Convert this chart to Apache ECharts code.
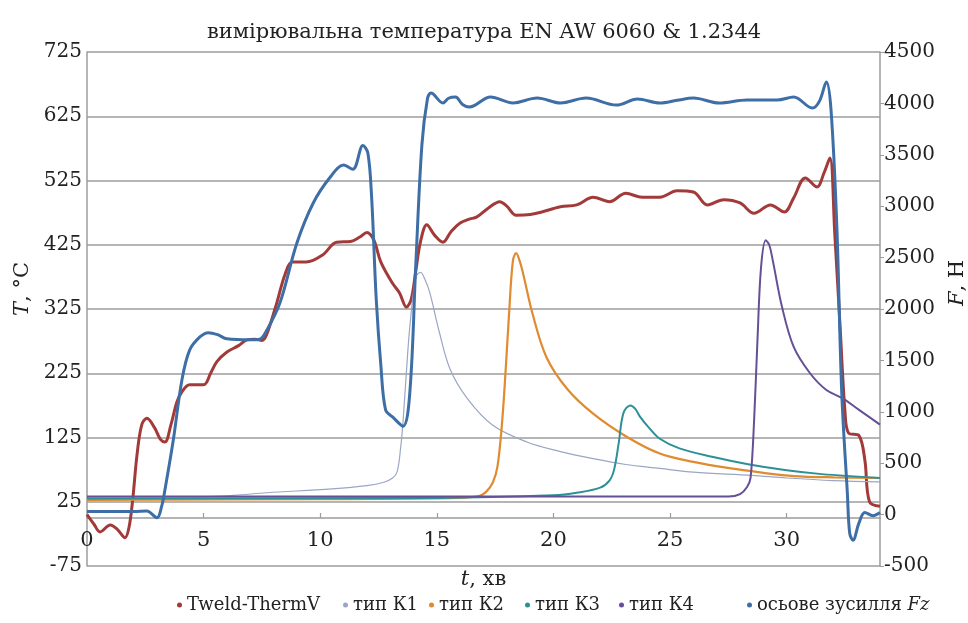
<!DOCTYPE html>
<html>
<head>
<meta charset="utf-8">
<script src="https://cdn.jsdelivr.net/npm/echarts@6/dist/echarts.min.js"></script>
<style>html,body{margin:0;padding:0;background:#fff}#c{width:968px;height:623px}</style>
</head>
<body>
<div id="c"></div>
<script>
// ---- data (t in minutes) ----
const seriesNames = ['Tweld-ThermV', 'тип К1', 'тип К2', 'тип К3', 'тип К4', 'осьове зусилля Fz'];
const xTicks = [0, 5, 10, 15, 20, 25, 30];
const tempTicks = [-75, 25, 125, 225, 325, 425, 525, 625, 725];
const forceTicks = [-500, 0, 500, 1000, 1500, 2000, 2500, 3000, 3500, 4000, 4500];

const tweld = [[0,5],[0.3,-10],[0.56,-22],[1.0,-11],[1.3,-18],[1.63,-31],[1.8,-15],[1.95,25],[2.15,100],[2.35,145],[2.57,155],[2.9,140],[3.15,122],[3.34,118],[3.6,145],[3.85,180],[4.07,196],[4.4,207],[5.0,207],[5.3,225],[5.57,243],[6.0,258],[6.5,268],[6.86,277],[7.2,278],[7.5,276],[7.7,285],[8.14,335],[8.5,380],[8.8,398],[9.4,398],[10.1,409],[10.7,429],[11.3,430],[11.7,437],[12.0,444],[12.3,432],[12.6,398],[13.1,365],[13.4,350],[13.7,328],[13.9,340],[14.1,385],[14.3,430],[14.57,456],[14.9,440],[15.26,429],[15.6,445],[16.0,459],[16.4,465],[16.7,468],[17.2,482],[17.7,492],[18.0,485],[18.4,471],[19.0,472],[19.5,476],[20.3,484],[21.0,487],[21.7,499],[22.4,492],[23.1,505],[23.8,499],[24.56,499],[25.3,509],[26.0,507],[26.6,487],[27.3,495],[28.0,490],[28.6,474],[29.3,487],[29.9,476],[30.3,498],[30.8,529],[31.3,515],[31.6,537],[31.85,560],[32.06,443],[32.3,290],[32.5,165],[32.65,132],[33.1,128],[33.35,90],[33.55,25],[34,18]];

const k1 = [[0,33],[5,33],[6.3,35],[7.7,39],[10.5,45],[12.0,50],[12.7,55],[13.1,62],[13.3,72],[13.45,110],[13.55,150],[13.7,230],[13.84,297],[14.1,375],[14.3,382],[14.5,370],[14.7,350],[15.1,290],[15.56,232],[16.3,186],[17.4,144],[18.86,118],[20.3,103],[21.7,92],[23.1,83],[24.56,77],[26,71],[28.5,66],[30,62],[32,58],[34,56]];

const k2 = [[0,28],[10,29],[16,31],[16.8,34],[17.1,40],[17.4,55],[17.6,80],[17.8,150],[17.95,230],[18.1,320],[18.26,400],[18.4,412],[18.55,400],[18.7,380],[19.1,318],[19.7,250],[20.6,200],[21.7,162],[23.1,127],[24.56,100],[26,87],[27.4,78],[29,70],[30.3,65],[32,63],[34,62]];

const k3 = [[0,30],[15,31],[20,35],[21,39],[22,47],[22.4,58],[22.6,75],[22.8,117],[23.0,163],[23.3,175],[23.5,170],[23.7,158],[24.1,140],[24.56,123],[25.4,108],[26.8,95],[28.4,83],[30,74],[31.5,68],[34,62]];

const k4 = [[0,33],[20,33],[27.5,33],[28.0,37],[28.3,48],[28.45,62],[28.6,150],[28.75,280],[28.9,390],[29.1,432],[29.25,425],[29.4,401],[29.8,328],[30.3,266],[31.0,225],[31.7,199],[32.4,186],[33.1,168],[34,145]];

const fz = [[0,30],[1,30],[2,30],[2.56,35],[3.0,-30],[3.2,80],[3.34,240],[3.7,726],[4.07,1310],[4.4,1600],[4.84,1728],[5.2,1770],[5.6,1750],[6.0,1710],[7.0,1700],[7.4,1705],[7.7,1790],[8.27,2058],[9.0,2642],[9.7,3031],[10.4,3274],[11.0,3400],[11.4,3360],[11.83,3590],[12.04,3520],[12.2,3100],[12.4,2100],[12.6,1450],[12.8,1020],[13.1,950],[13.55,860],[13.84,1183],[14.1,2447],[14.36,3600],[14.6,4050],[14.75,4100],[15.26,4004],[15.5,4050],[15.8,4062],[16.1,3990],[16.4,3965],[17.3,4062],[18.26,4004],[19.3,4052],[20.3,4004],[21.4,4052],[22.7,3984],[23.6,4043],[24.56,4004],[25.3,4030],[26.0,4052],[27.1,4004],[28.3,4033],[29.6,4033],[30.3,4062],[31.1,3955],[31.4,4020],[31.7,4208],[31.9,3936],[32.15,2800],[32.36,1183],[32.6,210],[32.7,-180],[32.84,-250],[33.1,-80],[33.35,20],[33.7,-10],[34,20]];

const colors = ['#a33a3a', '#9aa6c6', '#e08b2f', '#2b9197', '#654f96', '#3d6ea6'];
const widths = [3, 1.2, 2.2, 2, 2, 3];
const seriesData = [tweld, k1, k2, k3, k4, fz];
const yIndex = [0, 0, 0, 0, 0, 1];

const FONT = 'DejaVu Serif';
const legendLeft = [172, 338, 424, 520, 614, 742];

const chart = echarts.init(document.getElementById('c'));
const gray = '#9c9c9c';

const option = {
  animation: false,
  backgroundColor: '#fff',
  title: {
    text: 'вимірювальна температура EN AW 6060 & 1.2344',
    left: 'center', top: 17,
    textStyle: { fontFamily: FONT, fontSize: 21, fontWeight: 'normal', color: '#222' }
  },
  legend: seriesNames.map((n, i) => ({
    data: [n],
    left: legendLeft[i], bottom: 4,
    icon: 'circle', itemWidth: 5, itemHeight: 5, itemGap: 6,
    formatter: (name) => name === 'осьове зусилля Fz' ? '{n|осьове зусилля }{i|Fz}' : name,
    textStyle: {
      fontFamily: FONT, fontSize: 18, color: '#222',
      rich: {
        n: { fontFamily: FONT, fontSize: 18, color: '#222' },
        i: { fontFamily: FONT, fontSize: 18, color: '#222', fontStyle: 'italic' }
      }
    }
  })),
  grid: { left: 87, right: 88, top: 52, bottom: 57, outerBoundsMode: 'none', containLabel: false },
  xAxis: {
    type: 'value', min: 0, max: 34, interval: 5,
    offset: -48,
    name: '{i|t}, хв', nameLocation: 'middle', nameGap: 51,
    nameTextStyle: {
      fontFamily: FONT, fontSize: 21, color: '#222',
      rich: { i: { fontFamily: FONT, fontSize: 21, fontStyle: 'italic', color: '#222' } }
    },
    axisLine: { onZero: false, lineStyle: { color: gray, width: 1.5 } },
    axisTick: { show: true, inside: true, length: 5, lineStyle: { color: gray, width: 1.2 } },
    axisLabel: { fontFamily: FONT, fontSize: 21, color: '#222', margin: 12, showMaxLabel: false },
    splitLine: { show: false }
  },
  yAxis: [
    {
      type: 'value', min: tempTicks[0], max: tempTicks[tempTicks.length - 1], interval: 100,
      name: '{i|T}, °C', nameLocation: 'middle', nameGap: 52, nameRotate: 90,
      nameTextStyle: {
        fontFamily: FONT, fontSize: 21, color: '#222', padding: [0, 0, 0, 40],
        rich: { i: { fontFamily: FONT, fontSize: 21, fontStyle: 'italic', color: '#222' } }
      },
      axisLine: { show: true, onZero: false, lineStyle: { color: gray, width: 1.5 } },
      axisTick: { show: false },
      axisLabel: { fontFamily: FONT, fontSize: 20, color: '#222', margin: 5 },
      splitLine: { show: true, lineStyle: { color: gray, width: 1.5 } }
    },
    {
      type: 'value', min: forceTicks[0], max: forceTicks[forceTicks.length - 1], interval: 500,
      name: '{i|F}, Н', nameLocation: 'middle', nameGap: 67, nameRotate: 90,
      nameTextStyle: {
        fontFamily: FONT, fontSize: 21, color: '#222', padding: [0, 0, 0, 52],
        rich: { i: { fontFamily: FONT, fontSize: 21, fontStyle: 'italic', color: '#222' } }
      },
      axisLine: { show: true, onZero: false, lineStyle: { color: gray, width: 1.5 } },
      axisTick: { show: true, length: 4, lineStyle: { color: gray } },
      axisLabel: { fontFamily: FONT, fontSize: 20, color: '#222', margin: 4, formatter: (v) => String(v) },
      splitLine: { show: false }
    }
  ],
  series: seriesNames.map((n, i) => ({
    name: n, type: 'line', yAxisIndex: yIndex[i],
    data: seriesData[i],
    showSymbol: false, symbol: 'circle',
    smooth: 0.35,
    itemStyle: { color: colors[i] },
    lineStyle: { color: colors[i], width: widths[i] },
    z: 2 + i
  }))
};
chart.setOption(option);
</script>
</body>
</html>
